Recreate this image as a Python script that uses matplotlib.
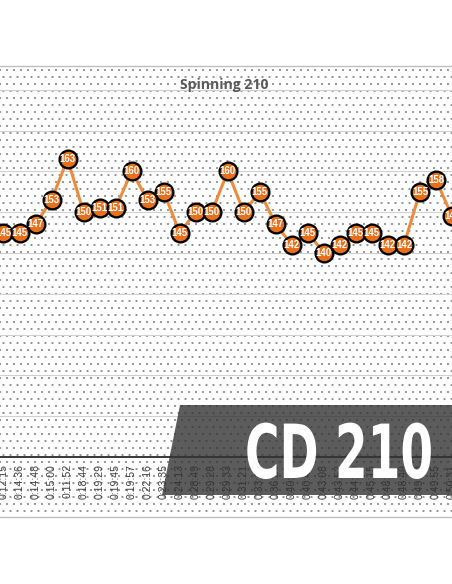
import matplotlib.pyplot as plt
from matplotlib.patches import Rectangle, Polygon
from matplotlib.patheffects import AbstractPathEffect
from matplotlib.transforms import Affine2D

times = ['0:12:15', '0:14:36', '0:14:48', '0:15:00', '0:11:52', '0:18:44',
         '0:19:29', '0:19:45', '0:19:57', '0:22:16', '0:23:35', '0:24:13',
         '0:28:49', '0:29:28', '0:29:33', '0:31:21', '0:33:10', '0:36:24',
         '0:40:05', '0:40:47', '0:43:08', '0:43:52', '0:44:30', '0:45:15',
         '0:48:12', '0:48:40', '0:49:20', '0:49:55', '0:50:31']
speed = [145, 145, 147, 153, 163, 150, 151, 151, 160, 153, 155, 145, 150, 150,
         160, 150, 155, 147, 142, 145, 140, 142, 145, 145, 142, 142, 155, 158, 149]

plt.rcParams['hatch.linewidth'] = 0.6

W, H, DPI = 452, 584, 84


class Squeeze(AbstractPathEffect):
    # squeeze text horizontally around a display x position
    def __init__(self, sx, cx):
        super().__init__()
        self.sx = sx
        self.cx = cx

    def draw_path(self, renderer, gc, tpath, affine, rgbFace=None):
        t = affine + Affine2D().translate(-self.cx, 0).scale(self.sx, 1).translate(self.cx, 0)
        renderer.draw_path(gc, tpath, t, rgbFace)


fig = plt.figure(figsize=(W / DPI, H / DPI), dpi=DPI)

# dotted chart area + thin border
fig.patches.append(Rectangle((-0.01, 67 / H), 1.02, 451 / H, transform=fig.transFigure,
                             facecolor='white', edgecolor='#8a8a8a', lw=0, hatch='..', zorder=-2))
fig.patches.append(Rectangle((-0.01, 67 / H), 1.02, 451 / H, transform=fig.transFigure,
                             fill=False, edgecolor='#bfbfbf', lw=1.2, zorder=-1))

ax = fig.add_axes([0, 127 / H, 1, 391 / H])
ax.patch.set_alpha(0)
x = list(range(len(speed)))
ax.plot(x, speed, color='#ED8B3C', lw=2.6, marker='o', ms=15.2,
        mfc='#E8701A', mec='black', mew=2.0, zorder=3)
for xi, v in zip(x, speed):
    ax.text(xi, v, str(v), ha='center', va='center', color='white', fontsize=8.3,
            fontweight='bold', family='Liberation Sans', zorder=4)

ax.set_xlim(-3.5 / 16.1, (W - 3.5) / 16.1)
ax.set_ylim(90, 90 + 391 / 4.08)
ax.set_xticks(x)
ax.set_xticklabels(times, rotation=90, fontsize=9, color='#404040', family='Liberation Sans')
ax.set_yticks(range(100, 190, 10))
ax.tick_params(axis='x', length=0, pad=6)
ax.tick_params(axis='y', length=0, labelleft=False)
ax.yaxis.grid(True, color='#d0d0d0', lw=0.9)
ax.set_axisbelow(True)
for s in ['top', 'left', 'right']:
    ax.spines[s].set_visible(False)
ax.spines['bottom'].set_color('black')
ax.spines['bottom'].set_linewidth(1.3)

fig.text(224 / W, 1 - 89 / H, 'Spinning 210', ha='center', va='baseline',
         fontsize=12, fontweight='bold', color='#595959', family='Open Sans')

# dark banner with the big label
fig.patches.append(Polygon([(180 / W, 1 - 405 / H), (1.02, 1 - 405 / H),
                            (1.02, 1 - 495 / H), (162 / W, 1 - 495 / H)],
                           closed=True, transform=fig.transFigure,
                           facecolor='#333333', edgecolor='none', alpha=0.8, zorder=5))
fig.text(339 / W, 1 - 478 / H, 'CD 210', ha='center', va='baseline', fontsize=64,
         fontweight='bold', color='white', family='DejaVu Sans', zorder=6,
         path_effects=[Squeeze(0.63, 339)])

fig.savefig('out.png', dpi=DPI)
